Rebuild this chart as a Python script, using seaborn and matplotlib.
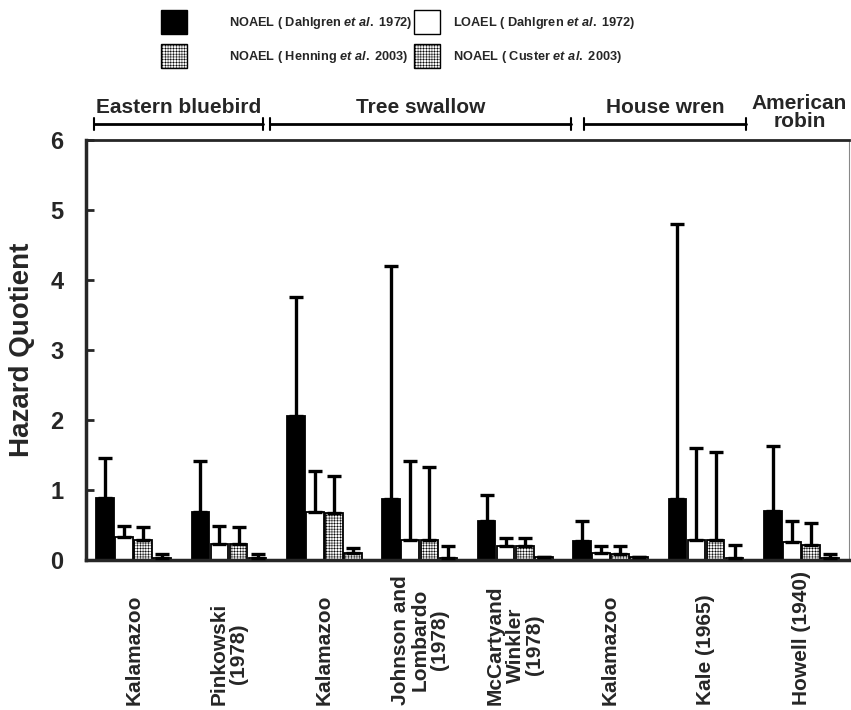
import numpy as np
import pandas as pd
import seaborn as sns
import matplotlib.pyplot as plt
from matplotlib.patches import Patch

# datos
sitios = ["EB_Kalamazoo", "EB_Pinkowski", "TS_Kalamazoo", "TS_Johnson",
          "TS_McCarty", "HW_Kalamazoo", "HW_Kale", "AR_Howell"]
etiquetas = ["Kalamazoo", "Pinkowski\n(1978)", "Kalamazoo", "Johnson and\nLombardo\n(1978)",
             "McCartyand\nWinkler\n(1978)", "Kalamazoo", "Kale (1965)", "Howell (1940)"]

series = ["NOAEL Dahlgren", "LOAEL Dahlgren", "NOAEL Henning", "NOAEL Custer"]

noael_dahlgren = [0.89, 0.69, 2.06, 0.87, 0.56, 0.27, 0.87, 0.70]
noael_dahlgren_sup = [1.45, 1.41, 3.76, 4.20, 0.93, 0.55, 4.80, 1.63]
loael_dahlgren = [0.33, 0.23, 0.68, 0.28, 0.20, 0.10, 0.28, 0.26]
loael_dahlgren_sup = [0.49, 0.49, 1.27, 1.41, 0.31, 0.20, 1.60, 0.55]
noael_henning = [0.29, 0.23, 0.67, 0.28, 0.20, 0.08, 0.28, 0.22]
noael_henning_sup = [0.47, 0.47, 1.20, 1.33, 0.31, 0.20, 1.54, 0.53]
noael_custer = [0.03, 0.03, 0.10, 0.03, 0.04, 0.04, 0.03, 0.03]
noael_custer_sup = [0.08, 0.08, 0.17, 0.20, 0.04, 0.04, 0.22, 0.08]

especies = ["Eastern bluebird", "Tree swallow", "House wren", "American\nrobin"]

valores = [noael_dahlgren, loael_dahlgren, noael_henning, noael_custer]
superiores = [noael_dahlgren_sup, loael_dahlgren_sup, noael_henning_sup, noael_custer_sup]

df = pd.DataFrame({
    "Sitio": np.tile(sitios, 4),
    "Serie": np.repeat(series, len(sitios)),
    "HQ": np.concatenate(valores),
})

sns.set_style("ticks")
plt.rcParams['font.family'] = ['Liberation Sans', 'DejaVu Sans']
plt.rcParams['font.weight'] = 'bold'
plt.rcParams['hatch.linewidth'] = 0.35
plt.rcParams['hatch.color'] = '#c0c0c0'
gris_trama = '#c0c0c0'
relleno = '#f7f7f7'

fuente_ley, tam_ley = "Liberation Sans", 9.2
plt.rcParams['mathtext.fontset'] = 'custom'
plt.rcParams['mathtext.rm'] = fuente_ley + ':bold'
plt.rcParams['mathtext.it'] = fuente_ley + ':italic:bold'

fig = plt.figure(figsize=(8.51, 7.10), dpi=100)
ax = fig.add_axes([0.101, 0.2113, 0.8967, 0.5915])

colores = ["black", "white", relleno, relleno]
sns.barplot(data=df, x="Sitio", y="HQ", hue="Serie", order=sitios, hue_order=series,
            palette=colores, errorbar=None, width=0.8, gap=0.08, legend=False,
            edgecolor="black", linewidth=1.3, saturation=1, ax=ax)

tramas = [None, None, "++++++", "++++++"]
for cont, trama, val, sup in zip(ax.containers, tramas, valores, superiores):
    xs = []
    for barra in cont:
        xs.append(barra.get_x() + barra.get_width() / 2)
        if trama:
            barra.set_hatch(trama)
            if hasattr(barra, "set_hatchcolor"):
                barra.set_hatchcolor(gris_trama)
    err = np.array(sup) - np.array(val)
    ax.errorbar(xs, val, yerr=[np.zeros(len(val)), err], fmt="none", ecolor="black",
                elinewidth=2.4, capsize=5, capthick=2.4, zorder=5)

ax.set_xlim(-0.5, 7.5)
ax.set_ylim(0, 6)
ax.set_yticks(range(7))
ax.tick_params(axis="y", direction="in", length=6, width=2, labelsize=17, pad=16)
ax.tick_params(axis="x", length=0, labelbottom=False)
ax.set_xlabel("")
ax.set_ylabel("Hazard Quotient", fontsize=20, fontweight="bold")
ax.yaxis.set_label_coords(-0.067, 0.5)

for lado in ["left", "bottom"]:
    ax.spines[lado].set_linewidth(2.5)
ax.spines["top"].set_linewidth(2)
ax.spines["right"].set_linewidth(0.8)
ax.spines["right"].set_color("#888888")

# etiquetas de sitio (verticales)
trans = ax.get_xaxis_transform()
for i, et in enumerate(etiquetas):
    ax.text(i, -0.345, et, transform=trans, rotation=90, ha="center", va="bottom",
            multialignment="center", fontsize=15, fontweight="bold", linespacing=1.05)

# corchetes de especies
tramos = [(-0.42, 1.36), (1.43, 4.58), (4.72, 6.42)]
for (x0, x1), nombre in zip(tramos, especies[:3]):
    ax.plot([x0, x1], [6.23, 6.23], color="black", lw=2, clip_on=False)
    for xx in (x0, x1):
        ax.plot([xx, xx], [6.15, 6.31], color="black", lw=1.5, clip_on=False)
    ax.text((x0 + x1) / 2, 6.47, nombre, ha="center", va="center",
            fontsize=15, fontweight="bold")
ax.text(6.98, 6.39, especies[3], ha="center", va="center", fontsize=15,
        fontweight="bold", linespacing=0.95)

# leyenda (dos columnas separadas)
def parche(color, trama=None):
    p = Patch(facecolor=color, edgecolor="black", hatch=trama, linewidth=1)
    if trama and hasattr(p, "set_hatchcolor"):
        p.set_hatchcolor(gris_trama)
    return p

col1 = [parche("black"), parche(relleno, "++++++")]
txt1 = [r"NOAEL ( Dahlgren $et\ al.$ 1972)", r"NOAEL ( Henning $et\ al.$ 2003)"]
col2 = [parche("white"), parche(relleno, "++++++")]
txt2 = [r"LOAEL ( Dahlgren $et\ al.$ 1972)", r"NOAEL ( Custer $et\ al.$ 2003)"]

em = tam_ley * 100 / 72
alto = (24 / em - 0.245) / 0.65
opciones = dict(loc="upper left", frameon=False,
                prop={"family": fuente_ley, "size": tam_ley, "weight": "bold"},
                handlelength=26 / em, handleheight=alto,
                labelspacing=10 / em, borderaxespad=0, borderpad=0)
fig.legend(col1, txt1, bbox_to_anchor=(161 / 851, 1 - 10 / 710),
           handletextpad=42 / em, **opciones)
fig.legend(col2, txt2, bbox_to_anchor=(414 / 851, 1 - 10 / 710),
           handletextpad=13 / em, **opciones)

fig.savefig("out.png", dpi=100)
